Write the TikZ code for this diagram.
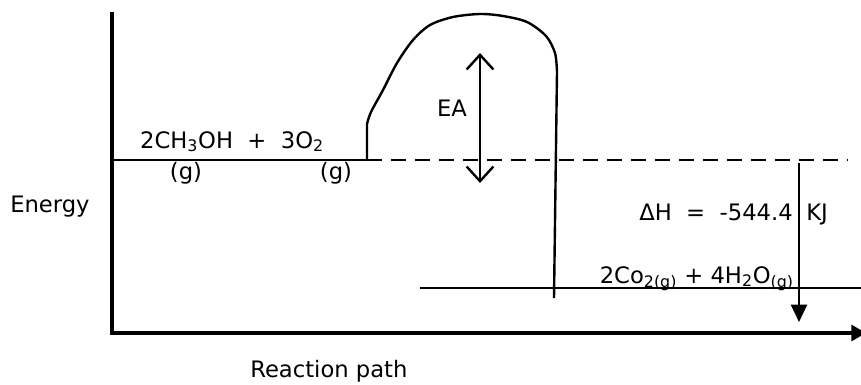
\documentclass[tikz,border=0pt]{standalone}
\usepackage{fontspec}
\setmainfont{DejaVu Sans}
\usetikzlibrary{arrows.meta}
\tikzset{
  AxisStyle/.style={line width=2.4pt},
  LevelStyle/.style={line width=1.8pt},
  LabelStyle/.style={inner sep=0pt, font=\fontsize{17}{19}\selectfont},
}
\begin{document}
\begin{tikzpicture}[x=0.75pt,y=-0.75pt]
    \useasboundingbox (0,0) rectangle (861,385);
    % axes
    \coordinate (Top) at (112,12);
    \coordinate (O) at (112,333);
    \coordinate (End) at (866,333);
    \draw[AxisStyle, -{Triangle[length=11pt,width=12pt]}] (Top) -- (O) -- (End);
    \node[LabelStyle, anchor=base west] (Energy) at (10,212) {Energy};
    \node[LabelStyle, anchor=base west] (Path) at (250,377) {Reaction path};
    % reactants
    \coordinate (R) at (112,160);
    \coordinate (S) at (367,160);
    \coordinate (Rend) at (848,160);
    \draw[LevelStyle] (R) -- (S);
    \draw[LevelStyle, dash pattern=on 11pt off 7pt] (S) -- (Rend);
    \node[LabelStyle, anchor=base] (Reac) at (232,148) {2CH\textsubscript{3}OH \ + \ 3O\textsubscript{2}};
    \node[LabelStyle, anchor=base] (G1) at (186,180) {(g)};
    \node[LabelStyle, anchor=base] (G2) at (336,180) {(g)};
    % products
    \coordinate (P) at (420,288);
    \coordinate (Pend) at (861,288);
    \draw[LevelStyle] (P) -- (Pend);
    \node[LabelStyle, anchor=base east] (Prod) at (794,283) {2Co\textsubscript{2(g)} + 4H\textsubscript{2}O\textsubscript{(g)}};
    % hump
    \coordinate (H) at (554,298);
    \draw[LevelStyle] (S) -- (367,124) -- plot[smooth] coordinates {(367,124) (371,112) (383,90) (397,63) (413,40) (430,25) (453,17) (480,14) (503,16) (527,22) (546,36) (555,53) (557,72)} -- (H);
    \coordinate (EAtop) at (480,53);
    \coordinate (EAbot) at (480,183);
    \draw[LevelStyle, {Straight Barb[length=11pt,width=20pt]}-{Straight Barb[length=11pt,width=20pt]}] (EAbot) -- (EAtop);
    \node[LabelStyle, anchor=base] (EA) at (452,117) {EA};
    % enthalpy
    \coordinate (DHtop) at (799,163);
    \coordinate (DHbot) at (799,322);
    \draw[LevelStyle, -{Triangle[length=13pt,width=12pt]}] (DHtop) -- (DHbot);
    \node[LabelStyle, anchor=base east] (DH) at (793,220) {ΔH \ = \ -544.4};
    \node[LabelStyle, anchor=base west] (KJ) at (806,220) {KJ};
\end{tikzpicture}
\end{document}
